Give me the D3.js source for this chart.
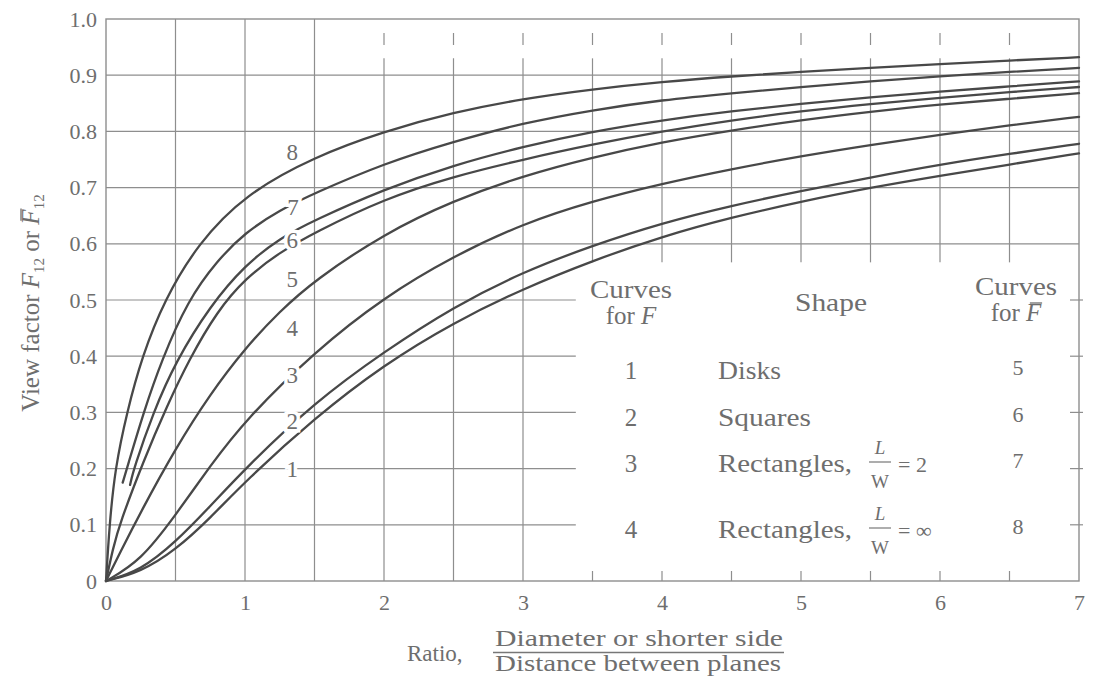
<!DOCTYPE html>
<html>
<head>
<meta charset="utf-8">
<script src="https://cdn.jsdelivr.net/npm/d3@7"></script>
<style>
  body { margin: 0; background: #fff; }
  svg { display: block; }
  text { font-family: "Liberation Serif", "Times New Roman", serif; fill: #6e6e6e; }
</style>
</head>
<body>
<svg id="chart" width="1096" height="698"></svg>
<script>
// ---------------- DATA ----------------
const curve1 = [[0,0],[0.25,0.016],[0.5,0.055],[0.75,0.112],[1,0.177],[1.5,0.29],[2,0.385],[2.5,0.46],[3,0.52],[3.5,0.57],[4,0.613],[4.5,0.647],[5,0.675],[5.5,0.7],[6,0.721],[6.5,0.741],[7,0.761]];
const curve2 = [[0,0],[0.25,0.019],[0.5,0.069],[0.75,0.133],[1,0.2],[1.5,0.318],[2,0.408],[2.5,0.488],[3,0.55],[3.5,0.597],[4,0.637],[4.5,0.668],[5,0.694],[5.5,0.718],[6,0.741],[6.5,0.76],[7,0.778]];
const curve3 = [[0,0],[0.25,0.036],[0.5,0.117],[0.75,0.205],[1,0.286],[1.5,0.408],[2,0.505],[2.5,0.578],[3,0.636],[3.5,0.676],[4,0.707],[4.5,0.733],[5,0.756],[5.5,0.776],[6,0.794],[6.5,0.811],[7,0.826]];
const curve4 = [[0,0],[0.1,0.05],[0.25,0.123],[0.5,0.236],[0.75,0.333],[1,0.414],[1.25,0.48],[1.5,0.535],[2,0.618],[2.5,0.677],[3,0.721],[3.5,0.754],[4,0.781],[4.5,0.802],[5,0.82],[5.5,0.835],[6,0.848],[6.5,0.858],[7,0.868]];
const curve5 = [[0,0],[0.05,0.058],[0.1,0.103],[0.27,0.214],[0.44,0.312],[0.6,0.395],[0.8,0.48],[1,0.538],[1.25,0.585],[1.5,0.62],[2,0.68],[2.5,0.72],[3,0.75],[3.5,0.777],[4,0.8],[4.5,0.82],[5,0.836],[5.5,0.849],[6,0.86],[6.5,0.87],[7,0.879]];
const curve6 = [[0.173,0.171],[0.2,0.2],[0.34,0.3],[0.5,0.39],[0.75,0.49],[1,0.562],[1.25,0.61],[1.5,0.642],[2,0.697],[2.5,0.74],[3,0.773],[3.5,0.8],[4,0.82],[4.5,0.836],[5,0.849],[5.5,0.861],[6,0.871],[6.5,0.88],[7,0.889]];
const curve7 = [[0.12,0.175],[0.15,0.2],[0.27,0.3],[0.4,0.393],[0.59,0.5],[0.8,0.57],[1,0.62],[1.25,0.66],[1.5,0.69],[2,0.743],[2.5,0.782],[3,0.815],[3.5,0.838],[4,0.856],[4.5,0.868],[5,0.879],[5.5,0.889],[6,0.898],[6.5,0.906],[7,0.913]];
const curve8 = [[0,0],[0.025,0.1],[0.065,0.2],[0.15,0.3],[0.26,0.4],[0.42,0.5],[0.66,0.6],[1,0.688],[1.5,0.755],[2,0.8],[2.5,0.834],[3,0.858],[3.5,0.875],[4,0.888],[4.5,0.898],[5,0.906],[5.5,0.913],[6,0.92],[6.5,0.926],[7,0.932]];

const curveNames = ["1","2","3","4","5","6","7","8"];
const xTicks = [0,1,2,3,4,5,6,7];
const xTickLabels = ["0","1","2","3","4","5","6","7"];
const yTicks = [0,0.1,0.2,0.3,0.4,0.5,0.6,0.7,0.8,0.9,1.0];
const yTickLabels = ["0","0.1","0.2","0.3","0.4","0.5","0.6","0.7","0.8","0.9","1.0"];

const legendForF = ["1","2","3","4"];
const legendShape = ["Disks","Squares","Rectangles,","Rectangles,"];
const legendRatio = [null,null,"2","\u221E"];
const legendForFbar = ["5","6","7","8"];

// ---------------- LAYOUT ----------------
const svg = d3.select("#chart");
const x = d3.scaleLinear().domain([0,7]).range([106,1079]);
const y = d3.scaleLinear().domain([0,1]).range([581,19]);

const gridColor = "#8e8e8e";
const lineColor = "#484848";
const curves = [curve1,curve2,curve3,curve4,curve5,curve6,curve7,curve8];

const tableLeftX = 3.38, tableTopY = 0.567, gridTopY = 0.93;

const grid = svg.append("g").attr("stroke", gridColor).attr("stroke-width", 1.2).attr("fill","none");

yTicks.filter(v => v > 0 && v < 1).forEach(v => {
  const xEnd = v <= 0.5 ? tableLeftX : 7;
  grid.append("line").attr("x1", x(0)).attr("x2", x(xEnd)).attr("y1", y(v)).attr("y2", y(v));
});
d3.range(1, 14).map(i => i * 0.5).forEach(v => {
  const top = v <= 1.5 ? 1 : gridTopY;
  const bottom = v <= 3 ? 0 : tableTopY;
  grid.append("line").attr("x1", x(v)).attr("x2", x(v)).attr("y1", y(bottom)).attr("y2", y(top));
  if (v > 1.5) {
    grid.append("line").attr("x1", x(v)).attr("x2", x(v)).attr("y1", y(1) + 14).attr("y2", y(1) + 26);
  }
  if (v > 3) {
    grid.append("line").attr("x1", x(v)).attr("x2", x(v)).attr("y1", y(0)).attr("y2", y(0) - 10);
  }
});
yTicks.filter(v => v > 0 && v <= 0.5).forEach(v => {
  grid.append("line").attr("x1", x(7) - 9).attr("x2", x(7) + 4).attr("y1", y(v)).attr("y2", y(v));
});
grid.append("rect").attr("x", x(0)).attr("y", y(1)).attr("width", x(7) - x(0)).attr("height", y(0) - y(1))
  .attr("stroke-width", 1.4);

// curves
const line = d3.line().x(d => x(d[0])).y(d => y(d[1])).curve(d3.curveBasis);
svg.append("g").selectAll("path").data(curves).join("path")
  .attr("d", line).attr("fill","none").attr("stroke", lineColor).attr("stroke-width", 2.3)
  .attr("stroke-linecap","round");

// curve labels (white halo breaks lines beneath)
const curveLabelAt = [[1.34,0.2],[1.34,0.285],[1.34,0.366],[1.34,0.45],[1.34,0.538],[1.34,0.606],[1.345,0.666],[1.34,0.763]];
svg.append("g").selectAll("text").data(curveNames).join("text")
  .attr("x", (d,i) => x(curveLabelAt[i][0]))
  .attr("y", (d,i) => y(curveLabelAt[i][1]))
  .attr("dy", "0.35em")
  .attr("text-anchor","middle")
  .attr("font-size", 23)
  .attr("stroke", "#fff").attr("stroke-width", 7).attr("paint-order","stroke")
  .text(d => d);

// axes
const yAxis = svg.append("g").attr("transform", `translate(${x(0)},0)`)
  .call(d3.axisLeft(y).tickValues(yTicks).tickFormat((d,i) => yTickLabels[i]).tickSize(0).tickPadding(9));
yAxis.select(".domain").remove();
yAxis.selectAll("text").attr("font-size", 22).attr("font-family", "Liberation Serif").attr("fill", "#7a7a7a");

const xAxis = svg.append("g").attr("transform", `translate(0,${y(0)})`)
  .call(d3.axisBottom(x).tickValues(xTicks).tickFormat((d,i) => xTickLabels[i]).tickSize(0).tickPadding(13));
xAxis.select(".domain").remove();
xAxis.selectAll("text").attr("font-size", 22).attr("font-family", "Liberation Serif").attr("fill", "#7a7a7a");

function overbar(parent, textNode, idx, fs) {
  const e = textNode.getExtentOfChar(idx);
  parent.append("line")
    .attr("x1", e.x + e.width * 0.25).attr("x2", e.x + e.width * 1.05)
    .attr("y1", e.y + fs * 0.16).attr("y2", e.y + fs * 0.16)
    .attr("stroke", "#6e6e6e").attr("stroke-width", 1.3);
}

// y-axis title
const yTitleG = svg.append("g").attr("transform", "translate(39,303) rotate(-90)");
const yTitle = yTitleG.append("text").attr("text-anchor","middle").attr("font-size", 25);
yTitle.append("tspan").text("View factor ");
yTitle.append("tspan").attr("font-style","italic").text("F");
yTitle.append("tspan").attr("font-size", 15).attr("dy", 5).text("12");
yTitle.append("tspan").attr("dy", -5).text(" or ");
yTitle.append("tspan").attr("font-style","italic").text("F");
yTitle.append("tspan").attr("font-size", 15).attr("dy", 5).text("12");
overbar(yTitleG, yTitle.node(), 19, 25);

// x-axis title
const xt = svg.append("g");
xt.append("text").attr("x", 407).attr("y", 661).attr("font-size", 23).text("Ratio,");
xt.append("text").attr("x", 495).attr("y", 646).attr("font-size", 23)
  .attr("textLength", 288).attr("lengthAdjust","spacingAndGlyphs").text("Diameter or shorter side");
xt.append("line").attr("x1", 493).attr("x2", 784).attr("y1", 652.5).attr("y2", 652.5)
  .attr("stroke", "#777").attr("stroke-width", 1.4);
xt.append("text").attr("x", 495).attr("y", 671).attr("font-size", 23)
  .attr("textLength", 286).attr("lengthAdjust","spacingAndGlyphs").text("Distance between planes");

// legend table
const lg = svg.append("g").attr("font-size", 25);
const colF = 631, colShape = 718, colFbar = 1018;
lg.append("text").attr("x", colF).attr("y", 298).attr("text-anchor","middle")
  .attr("textLength", 82).attr("lengthAdjust","spacingAndGlyphs").text("Curves");
const forF = lg.append("text").attr("x", colF).attr("y", 324).attr("text-anchor","middle");
forF.append("tspan").text("for ");
forF.append("tspan").attr("font-style","italic").text("F");
lg.append("text").attr("x", 831).attr("y", 311).attr("text-anchor","middle")
  .attr("textLength", 72).attr("lengthAdjust","spacingAndGlyphs").text("Shape");
lg.append("text").attr("x", colFbar - 2).attr("y", 295).attr("text-anchor","middle")
  .attr("textLength", 82).attr("lengthAdjust","spacingAndGlyphs").text("Curves");
const forFbar = lg.append("text").attr("x", colFbar - 2).attr("y", 321).attr("text-anchor","middle");
forFbar.append("tspan").text("for ");
forFbar.append("tspan").attr("font-style","italic").text("F");
overbar(lg, forFbar.node(), 4, 25);

const rowBase = [379, 426, 472, 538];
legendForF.forEach((d,i) => {
  lg.append("text").attr("x", colF).attr("y", rowBase[i]).attr("text-anchor","middle").text(d);
  const s = lg.append("text").attr("x", colShape).attr("y", rowBase[i]).text(legendShape[i]);
  if (legendShape[i].startsWith("Rect")) s.attr("textLength", 134).attr("lengthAdjust","spacingAndGlyphs");
  else if (legendShape[i] === "Squares") s.attr("textLength", 93).attr("lengthAdjust","spacingAndGlyphs");
  else s.attr("textLength", 63).attr("lengthAdjust","spacingAndGlyphs");
  lg.append("text").attr("x", colFbar).attr("y", rowBase[i] - 4).attr("text-anchor","middle")
    .attr("font-size", 22).attr("fill","#8a8a8a").text(legendForFbar[i]);
  if (legendRatio[i]) {
    const fx = 880, yb = rowBase[i];
    lg.append("text").attr("x", fx).attr("y", yb - 18).attr("text-anchor","middle")
      .attr("font-size", 19).attr("font-style","italic").text("L");
    lg.append("line").attr("x1", fx - 11).attr("x2", fx + 11).attr("y1", yb - 10).attr("y2", yb - 10)
      .attr("stroke", "#777").attr("stroke-width", 1.2);
    lg.append("text").attr("x", fx).attr("y", yb + 16).attr("text-anchor","middle")
      .attr("font-size", 19).text("W");
    lg.append("text").attr("x", 898).attr("y", yb).attr("font-size", 22).text("= " + legendRatio[i]);
  }
});
</script>
</body>
</html>
